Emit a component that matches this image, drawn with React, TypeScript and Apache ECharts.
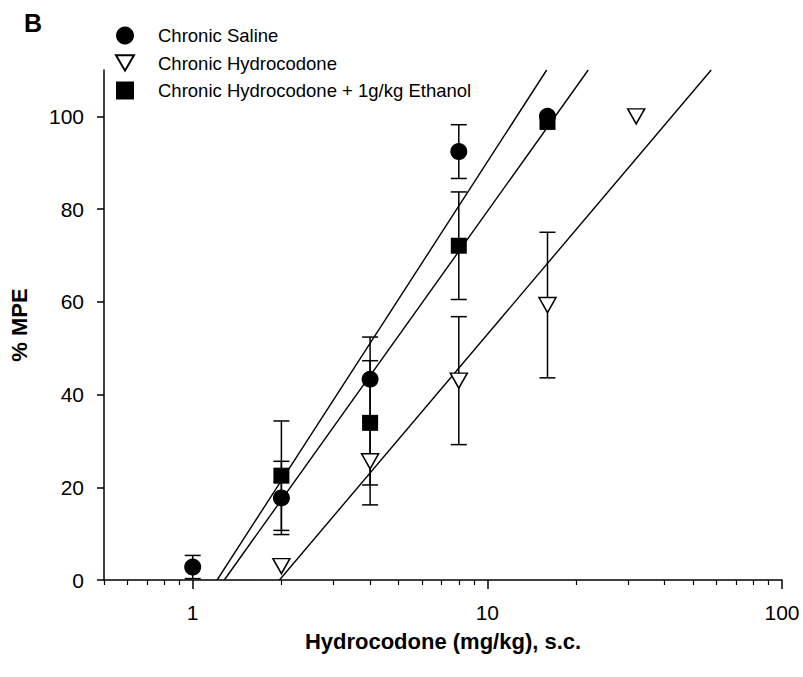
import React, { useEffect, useRef } from "react";
import * as echarts from "echarts";

// ---- data ----
const salineX = [1, 2, 4, 8, 16];
const salineY = [2.8, 17.7, 43.3, 92.4, 100];
const salineErr = [2.5, 7.9, 9.1, 5.8, 0];

const hcX = [2, 4, 8, 16, 32];
const hcY = [3, 25.6, 43, 59.3, 100];
const hcErr = [0, 9.4, 13.8, 15.7, 0];

const hcEtohX = [2, 4, 8, 16];
const hcEtohY = [22.5, 33.9, 72.1, 98.8];
const hcEtohErr = [11.8, 13.4, 11.6, 0];

// regression lines: dose at 0 %MPE and at the top of the axis (110)
const fitY = [0, 110];
const salineFitX = [1.21, 15.9];
const hcEtohFitX = [1.28, 22.0];
const hcFitX = [1.97, 57.5];

const yTicks = [0, 20, 40, 60, 80, 100];
const xMajorTicks = [1, 10, 100];
const xMinorTicks = [0.5, 0.6, 0.7, 0.8, 0.9, 2, 3, 4, 5, 6, 7, 8, 9, 20, 30, 40, 50, 60, 70, 80, 90];

const names = ["Chronic Saline", "Chronic Hydrocodone", "Chronic Hydrocodone + 1g/kg Ethanol"];

const FONT = "'Liberation Sans', Arial, sans-serif";
const TRI = "path://M0,0 L20,0 L10,17 Z";

function pts(xs: number[], ys: number[]) {
  return xs.map((x, i) => [x, ys[i]]);
}
function errs(xs: number[], ys: number[], es: number[]) {
  const out: number[][] = [];
  xs.forEach((x, i) => {
    if (es[i] > 0) out.push([x, ys[i] - es[i], ys[i] + es[i]]);
  });
  return out;
}

const errorRender = (params: any, api: any) => {
  const x = api.value(0);
  const lo = api.coord([x, api.value(1)]);
  const hi = api.coord([x, api.value(2)]);
  const w = 8;
  const st = { stroke: "#000", lineWidth: 1.5 };
  return {
    type: "group",
    children: [
      { type: "line", shape: { x1: lo[0], y1: lo[1], x2: hi[0], y2: hi[1] }, style: st },
      { type: "line", shape: { x1: lo[0] - w, y1: lo[1], x2: lo[0] + w, y2: lo[1] }, style: st },
      { type: "line", shape: { x1: hi[0] - w, y1: hi[1], x2: hi[0] + w, y2: hi[1] }, style: st },
    ],
  };
};

export default function App() {
  const ref = useRef<HTMLDivElement>(null);
  useEffect(() => {
    if (!ref.current) return;
    const chart = echarts.init(ref.current, null, { renderer: "svg" });
    const lineStyle = { color: "#000", width: 1.4, opacity: 1 };
    const option: any = {
      animation: false,
      backgroundColor: "#fff",
      textStyle: { fontFamily: FONT },
      grid: { left: 104, right: 21, top: 70, bottom: 97, outerBoundsMode: "none", containLabel: false },
      legend: {
        orient: "vertical",
        left: 110,
        top: 21,
        itemWidth: 18,
        itemHeight: 18,
        itemGap: 8.5,
        data: names,
        textStyle: { fontFamily: FONT, fontSize: 18.5, color: "#000", padding: [0, 0, 0, 19] },
      },
      graphic: [
        {
          type: "text",
          left: 24,
          top: 10,
          style: { text: "B", font: `bold 25px ${FONT}`, fill: "#000" },
        },
      ],
      xAxis: [
        {
          type: "log",
          logBase: 10,
          min: 0.5,
          max: 100,
          position: "bottom",
          name: "Hydrocodone (mg/kg), s.c.",
          nameLocation: "middle",
          nameGap: 50,
          nameTextStyle: { fontFamily: FONT, fontSize: 22, fontWeight: "bold", color: "#000" },
          axisLine: { show: true, lineStyle: { color: "#000", width: 1.5 } },
          axisTick: { show: true, customValues: xMajorTicks, length: 9, lineStyle: { color: "#000", width: 1.5 } },
          axisLabel: {
            customValues: xMajorTicks,
            margin: 22,
            fontSize: 21,
            color: "#000",
            fontFamily: FONT,
            formatter: (v: number) => String(Math.round(v)),
          },
          splitLine: { show: false },
          minorTick: { show: false },
        },
        {
          type: "log",
          logBase: 10,
          min: 0.5,
          max: 100,
          position: "bottom",
          offset: 0,
          axisLine: { show: false },
          axisTick: { show: true, customValues: xMinorTicks, length: 5, lineStyle: { color: "#000", width: 1.2 } },
          axisLabel: { show: false },
          splitLine: { show: false },
        },
      ],
      yAxis: {
        type: "value",
        min: 0,
        max: 110,
        name: "% MPE",
        nameLocation: "middle",
        nameRotate: 90,
        nameGap: 74,
        nameTextStyle: { fontFamily: FONT, fontSize: 22, fontWeight: "bold", color: "#000" },
        axisLine: { show: true, lineStyle: { color: "#000", width: 1.5 } },
        axisTick: { show: true, customValues: yTicks, length: 7, lineStyle: { color: "#000", width: 1.5 } },
        axisLabel: { customValues: yTicks, margin: 20, fontSize: 21, color: "#000", fontFamily: FONT },
        splitLine: { show: false },
      },
      series: [
        { type: "line", data: pts(salineFitX, fitY), symbol: "none", lineStyle, z: 1, silent: true },
        { type: "line", data: pts(hcEtohFitX, fitY), symbol: "none", lineStyle, z: 1, silent: true },
        { type: "line", data: pts(hcFitX, fitY), symbol: "none", lineStyle, z: 1, silent: true },
        { type: "custom", renderItem: errorRender, data: errs(salineX, salineY, salineErr), encode: { x: 0, y: [1, 2] }, z: 2 },
        { type: "custom", renderItem: errorRender, data: errs(hcX, hcY, hcErr), encode: { x: 0, y: [1, 2] }, z: 2 },
        { type: "custom", renderItem: errorRender, data: errs(hcEtohX, hcEtohY, hcEtohErr), encode: { x: 0, y: [1, 2] }, z: 2 },
        {
          name: names[0],
          type: "scatter",
          data: pts(salineX, salineY),
          symbol: "circle",
          symbolSize: 17,
          itemStyle: { color: "#000", opacity: 1 },
          z: 3,
        },
        {
          name: names[1],
          type: "scatter",
          data: pts(hcX, hcY),
          symbol: TRI,
          symbolSize: [17, 15],
          itemStyle: { color: "#fff", borderColor: "#000", borderWidth: 1.5, opacity: 1 },
          z: 4,
        },
        {
          name: names[2],
          type: "scatter",
          data: pts(hcEtohX, hcEtohY),
          symbol: "rect",
          symbolSize: 16,
          itemStyle: { color: "#000", opacity: 1 },
          z: 3,
        },
      ],
    };
    chart.setOption(option);
    return () => chart.dispose();
  }, []);
  return (
    <div
      ref={ref}
      style={{ position: "fixed", left: 0, top: 0, width: 803, height: 677, background: "#fff" }}
    />
  );
}
